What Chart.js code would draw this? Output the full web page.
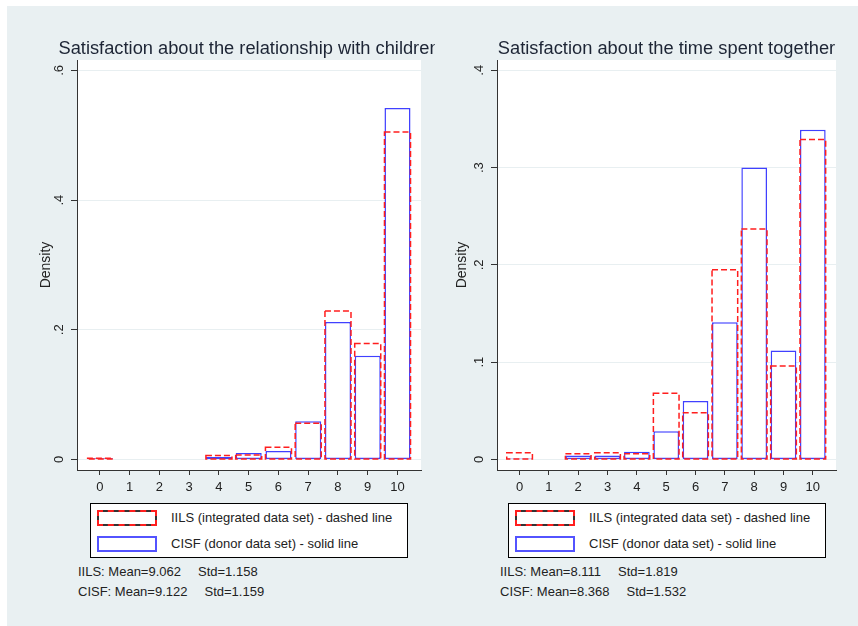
<!DOCTYPE html>
<html>
<head>
<meta charset="utf-8">
<title>Satisfaction histograms</title>
<script src="https://cdn.jsdelivr.net/npm/chart.js@4.4.1/dist/chart.umd.min.js"></script>
<style>
  html, body { margin: 0; padding: 0; background: #fff; }
  body { width: 858px; height: 626px; position: relative; overflow: hidden;
         font-family: "Liberation Sans", Arial, sans-serif; color: #222; }
  #frame { position: absolute; left: 7px; top: 6px; width: 851px; height: 620px; background: #e9f0f2; }
  canvas { position: absolute; top: 0; }
  #c1 { left: 0; }
  #c2 { left: 430px; }
  .legend { position: absolute; top: 503px; width: 316px; height: 53px; background: #fff; border: 1px solid #000; }
  .row { position: absolute; left: 6px; height: 16px; width: 320px; }
  .sw { position: absolute; left: 0; top: 0; width: 60px; height: 16px; box-sizing: border-box; }
  .sw.dash { background: #333; }
  .sw.dash div { width: 100%; height: 100%; box-sizing: border-box; border: 2px dashed #ff1e1e;
                 background: #fff; background-clip: padding-box; }
  .sw.solid { border: 2px solid rgba(40,40,255,0.8); background: #fff; }
  .row span { position: absolute; left: 74px; top: 0; line-height: 16px; font-size: 13px; white-space: nowrap; }
  .stats { position: absolute; top: 562px; font-size: 13px; line-height: 20px; white-space: nowrap; }
  .stats b { font-weight: normal; margin-left: 17px; }
</style>
</head>
<body>
<div id="frame"></div>
<canvas id="c1" width="435" height="500"></canvas>
<canvas id="c2" width="428" height="500"></canvas>

<div class="legend" id="lg1" style="left:90px"></div>
<div class="legend" id="lg2" style="left:508px"></div>
<div class="stats" id="st1" style="left:78px"></div>
<div class="stats" id="st2" style="left:500px"></div>

<script>
// satisfaction score 0..10
const categories = [0, 1, 2, 3, 4, 5, 6, 7, 8, 9, 10];

// relationship with children: density by score
const childIILS = [0.002, 0, 0, 0, 0.006, 0.007, 0.019, 0.056, 0.229, 0.179, 0.505];
const childCISF = [0.002, 0, 0, 0, 0.004, 0.010, 0.013, 0.059, 0.212, 0.160, 0.542];

// time spent together: density by score
const timeIILS = [0.007, 0, 0.006, 0.007, 0.006, 0.068, 0.048, 0.195, 0.237, 0.096, 0.329];
const timeCISF = [0.001, 0, 0.004, 0.004, 0.008, 0.029, 0.060, 0.141, 0.300, 0.112, 0.339];

const childTicks = [0, 0.2, 0.4, 0.6];
const childTickLabels = ['0', '.2', '.4', '.6'];
const timeTicks = [0, 0.1, 0.2, 0.3, 0.4];
const timeTickLabels = ['0', '.1', '.2', '.3', '.4'];

const seriesNames = ['IILS (integrated data set) - dashed line', 'CISF (donor data set) - solid line'];
// [mean, std] per data set
const childStats = { IILS: [9.062, 1.158], CISF: [9.122, 1.159] };
const timeStats = { IILS: [8.111, 1.819], CISF: [8.368, 1.532] };

const FONT = '"Liberation Sans", Arial, sans-serif';
const INK = '#222';
const AXIS = '#333';

// white plot region
const plotBg = {
  id: 'plotBg',
  beforeDraw(chart) {
    const a = chart.chartArea, ctx = chart.ctx;
    ctx.save();
    ctx.fillStyle = '#fff';
    ctx.fillRect(a.left, a.top, a.right - a.left, a.bottom - a.top);
    ctx.restore();
  }
};

// panel title, centred over the plot, not squeezed to the plot width
const panelTitle = {
  id: 'panelTitle',
  afterDraw(chart, args, opts) {
    const a = chart.chartArea, ctx = chart.ctx;
    ctx.save();
    ctx.font = '18.3px ' + FONT;
    ctx.fillStyle = '#1d2535';
    ctx.textAlign = 'center';
    ctx.textBaseline = 'alphabetic';
    ctx.fillText(opts.text, (a.left + a.right) / 2, a.top - 6);
    ctx.restore();
  }
};

// IILS bars: dashed red outlines on top of the solid ones
const dashedBars = {
  id: 'dashedBars',
  afterDatasetsDraw(chart) {
    const meta = chart.getDatasetMeta(0);
    const vals = chart.data.datasets[0].data;
    const ctx = chart.ctx;
    ctx.save();
    ctx.strokeStyle = '#ff1e1e';
    ctx.lineWidth = 1.5;
    ctx.setLineDash([6, 3]);
    meta.data.forEach((bar, i) => {
      if (!(vals[i] > 0)) return;
      const p = bar.getProps(['x', 'y', 'base', 'width'], true);
      ctx.strokeRect(p.x - p.width / 2, p.y, p.width, p.base - p.y);
    });
    ctx.restore();
  }
};

// vertical (rotated) y tick labels
const yTickText = {
  id: 'yTickText',
  afterDraw(chart, args, opts) {
    const y = chart.scales.y, ctx = chart.ctx;
    ctx.save();
    ctx.font = '13px ' + FONT;
    ctx.fillStyle = INK;
    ctx.textAlign = 'center';
    ctx.textBaseline = 'middle';
    y.ticks.forEach((t, i) => {
      ctx.save();
      ctx.translate(y.right - 18, y.getPixelForValue(t.value));
      ctx.rotate(-Math.PI / 2);
      ctx.fillText(opts.labels[i], 0, 0);
      ctx.restore();
    });
    ctx.restore();
  }
};

function makeChart(id, title, iils, cisf, ticks, tickLabels, yMin, yMax, axisWidth, padRight, titlePad) {
  return new Chart(document.getElementById(id), {
    type: 'bar',
    data: {
      labels: categories,
      datasets: [
        {
          label: 'IILS',
          data: iils,
          grouped: false,
          backgroundColor: 'rgba(0,0,0,0)',
          borderWidth: 0,
          barPercentage: 0.875,
          categoryPercentage: 1
        },
        {
          label: 'CISF',
          data: cisf,
          grouped: false,
          order: 1,
          backgroundColor: '#fff',
          borderColor: 'rgba(30,30,255,0.85)',
          borderWidth: ctx => (ctx.raw > 0 ? 1.5 : 0),
          borderSkipped: false,
          barPercentage: 0.875,
          categoryPercentage: 1
        }
      ]
    },
    options: {
      responsive: false,
      animation: false,
      events: [],
      layout: { padding: { left: 0, right: padRight, top: 60, bottom: 0 } },
      plugins: {
        legend: { display: false },
        tooltip: { enabled: false },
        title: { display: false },
        panelTitle: { text: title },
        yTickText: { labels: tickLabels }
      },
      scales: {
        x: {
          type: 'linear',
          offset: false,
          min: -0.77,
          max: 10.79,
          afterBuildTicks: s => { s.ticks = categories.map(v => ({ value: v })); },
          afterFit: s => { s.height = 30; },
          grid: { offset: false, drawOnChartArea: false, drawTicks: true, tickLength: 5, tickColor: AXIS },
          border: { color: AXIS, width: 1 },
          ticks: { color: INK, padding: 5, font: { family: FONT, size: 13 }, maxRotation: 0, autoSkip: false }
        },
        y: {
          min: yMin,
          max: yMax,
          afterBuildTicks: s => { s.ticks = ticks.map(v => ({ value: v })); },
          afterFit: s => { s.width = axisWidth; },
          grid: { color: '#e8eff1', lineWidth: 1, drawTicks: true, tickLength: 6, tickColor: AXIS },
          border: { color: AXIS, width: 1 },
          ticks: { display: false },
          title: {
            display: true,
            text: 'Density',
            color: INK,
            font: { family: FONT, size: 14 },
            padding: { top: titlePad, bottom: 0 }
          }
        }
      }
    },
    plugins: [plotBg, dashedBars, yTickText, panelTitle]
  });
}

makeChart('c1', 'Satisfaction about the relationship with children',
  childIILS, childCISF, childTicks, childTickLabels, -0.0162, 0.616, 77, 14, 38);
makeChart('c2', 'Satisfaction about the time spent together',
  timeIILS, timeCISF, timeTicks, timeTickLabels, -0.0108, 0.4106, 67, 22, 24);

function fillLegend(id) {
  const box = document.getElementById(id);
  box.innerHTML =
    '<div class="row" style="top:6px"><div class="sw dash"><div></div></div><span>' + seriesNames[0] + '</span></div>' +
    '<div class="row" style="top:32px"><div class="sw solid"></div><span>' + seriesNames[1] + '</span></div>';
}

function fillStats(id, st) {
  const line = (name, v) => name + ': Mean=' + v[0].toFixed(3) + '<b>Std=' + v[1].toFixed(3) + '</b>';
  document.getElementById(id).innerHTML = line('IILS', st.IILS) + '<br>' + line('CISF', st.CISF);
}

fillLegend('lg1');
fillLegend('lg2');
fillStats('st1', childStats);
fillStats('st2', timeStats);
</script>
</body>
</html>
